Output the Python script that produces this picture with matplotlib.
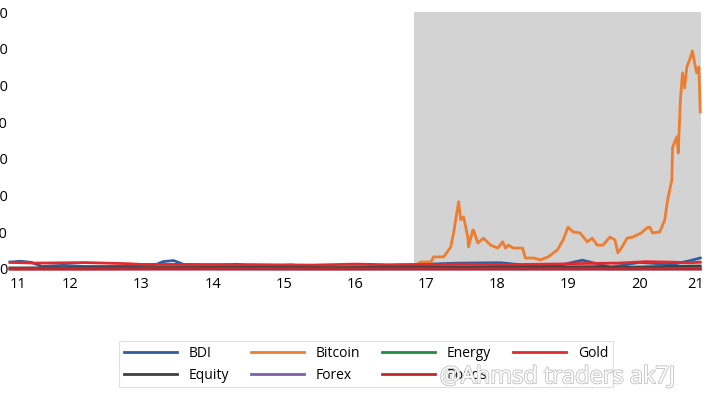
import matplotlib.pyplot as plt
import matplotlib.patheffects as pe

plt.rcParams['font.family'] = ['Open Sans', 'DejaVu Sans']

# decimal years, values in USD
btc_t = [2011.65, 2012.0, 2012.5, 2013.0, 2013.3, 2013.5, 2013.92, 2014.2, 2014.5, 2015.0,
         2015.5, 2016.0, 2016.5, 2017.0, 2017.2, 2017.33, 2017.43, 2017.57, 2017.61, 2017.75,
         2017.85, 2017.89, 2017.96, 2017.99, 2018.03, 2018.09, 2018.10, 2018.16, 2018.17, 2018.23,
         2018.31, 2018.41, 2018.51, 2018.58, 2018.62, 2018.66, 2018.73, 2018.86, 2018.90, 2019.01,
         2019.11, 2019.22, 2019.35, 2019.43, 2019.50, 2019.57, 2019.67, 2019.77, 2019.84, 2019.91,
         2019.99, 2020.09, 2020.16, 2020.20, 2020.26, 2020.33, 2020.41, 2020.53, 2020.61, 2020.65,
         2020.69, 2020.79, 2020.86, 2020.90, 2020.96, 2020.97, 2021.03, 2021.05, 2021.08, 2021.11,
         2021.14, 2021.17, 2021.21, 2021.25, 2021.28, 2021.31, 2021.34, 2021.36]
btc = [5, 6, 8, 13, 100, 90, 1000, 600, 600, 250,
       250, 430, 650, 1000, 1100, 800, 1900, 1900, 3300, 3300,
       6000, 9800, 18300, 13400, 14200, 8700, 6000, 10600, 10600, 7100,
       8400, 6500, 5700, 7400, 5700, 6500, 5700, 5700, 3000, 3000,
       2500, 3300, 5200, 7900, 11400, 10100, 9800, 7400, 8400, 6500,
       6500, 8700, 7900, 4400, 6000, 8400, 8700, 9800, 11200, 11400,
       9800, 10100, 13400, 18800, 24250, 33200, 36000, 31600, 46000, 53400,
       49300, 55000, 57000, 59400, 56100, 53400, 55000, 42800]

bdi_t = [2011.65, 2011.8, 2011.95, 2012.1, 2012.4, 2012.7, 2013.0, 2013.4, 2013.7, 2013.8,
         2013.95, 2014.1, 2014.5, 2014.85, 2015.1, 2015.6, 2016.1, 2016.9, 2017.2, 2017.95,
         2018.55, 2019.1, 2019.4, 2019.7, 2019.85, 2020.1, 2020.5, 2020.8, 2021.0, 2021.2, 2021.36]
bdi = [1900, 2100, 1800, 700, 1000, 700, 700, 850, 1200, 2000,
       2300, 1200, 850, 1300, 600, 1100, 350, 950, 1100, 1600,
       1700, 650, 1100, 2400, 1700, 450, 1800, 1400, 1400, 2200, 3000]

gold_t = [2011.65, 2012.0, 2012.7, 2013.3, 2013.5, 2014.0, 2015.0, 2015.9, 2016.5, 2017.0,
          2018.0, 2018.7, 2019.5, 2019.7, 2020.2, 2020.6, 2021.0, 2021.2, 2021.36]
gold = [1800, 1600, 1750, 1450, 1250, 1250, 1200, 1060, 1330, 1150,
        1320, 1200, 1400, 1500, 1600, 2000, 1850, 1700, 1850]

oth_t = [2011.65, 2012.5, 2013.5, 2014.5, 2015.5, 2016.1, 2016.9, 2017.9, 2018.9, 2019.9,
         2020.3, 2020.9, 2021.36]
equity = [300, 330, 380, 420, 430, 380, 450, 550, 500, 620, 450, 700, 800]
energy = [85, 95, 100, 100, 55, 30, 50, 60, 50, 60, 20, 45, 65]
forex = [1.35, 1.28, 1.33, 1.35, 1.1, 1.1, 1.05, 1.2, 1.14, 1.11, 1.1, 1.2, 1.21]
bonds = [2.0, 1.6, 2.5, 2.5, 2.2, 1.8, 2.4, 2.4, 2.7, 1.9, 0.7, 0.9, 1.6]

year_labels = ['11', '12', '13', '14', '15', '16', '17', '18', '19', '20', '21']
label_pos = [2011.76, 2012.5, 2013.5, 2014.5, 2015.5, 2016.5, 2017.5, 2018.5, 2019.5, 2020.5, 2021.3]

fig = plt.figure(figsize=(7.08, 3.97), dpi=100)
ax = fig.add_axes([10 / 708, 1 - 269 / 397, 691 / 708, 257 / 397])

ax.axvspan(2017.33, 2021.37, color='#d3d3d3', lw=0, zorder=0)

lw = 2.0
l_bdi, = ax.plot(bdi_t, bdi, color='#2e5fa0', lw=lw, label='BDI', clip_on=False)
l_btc, = ax.plot(btc_t, btc, color='#ed7d31', lw=lw, label='Bitcoin', clip_on=False)
l_en, = ax.plot(oth_t, energy, color='#1e8c45', lw=lw, label='Energy', clip_on=False)
l_gold, = ax.plot(gold_t, gold, color='#e02a30', lw=lw, label='Gold', clip_on=False)
l_eq, = ax.plot(oth_t, equity, color='#404040', lw=lw, label='Equity', clip_on=False)
l_fx, = ax.plot(oth_t, forex, color='#7f5faa', lw=lw, label='Forex', clip_on=False)
l_bd, = ax.plot(oth_t, bonds, color='#c0282d', lw=lw, label='Bonds', clip_on=False)

ax.set_xlim(2011.65, 2021.37)
ax.set_ylim(0, 70000)
ax.set_yticks(range(0, 70001, 10000))
ax.set_xticks(label_pos)
ax.set_xticklabels(year_labels)
ax.tick_params(length=0, labelsize=10.5)
ax.tick_params(axis='y', pad=1.5)
ax.tick_params(axis='x', pad=6)
for s in ax.spines.values():
    s.set_visible(False)

# legend filled column by column
hs = [l_bdi, l_eq, l_btc, l_fx, l_en, l_bd, l_gold]
leg = fig.legend(hs, [h.get_label() for h in hs], ncol=4, loc='center',
                 bbox_to_anchor=(0.517, 0.083), fontsize=10, frameon=True, fancybox=False,
                 edgecolor='#d9d9d9', handlelength=3.8, handletextpad=0.85,
                 columnspacing=1.6, labelspacing=0.5, borderpad=0.35)
leg.get_frame().set_linewidth(0.8)

# watermark on the source image
fig.text(0.621, 0.05, '@Ahmsd traders ak7J', fontsize=17, color='white',
         ha='left', va='center', zorder=10,
         path_effects=[pe.withStroke(linewidth=1.3, foreground='#c4c4c4')])

fig.savefig('out.png', dpi=100)
